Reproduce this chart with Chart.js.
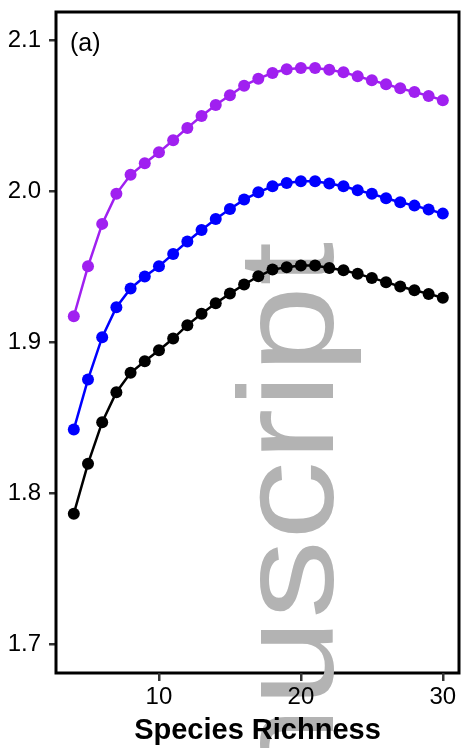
<!DOCTYPE html>
<html>
<head>
<meta charset="utf-8">
<script src="https://cdn.jsdelivr.net/npm/chart.js@4.4.1/dist/chart.umd.min.js"></script>
<style>
  html, body { margin: 0; padding: 0; background: #fff; }
  #wrap { width: 465px; height: 748px; }
</style>
</head>
<body>
<div id="wrap"><canvas id="richnessChart"></canvas></div>
<script>
const richness = [4, 5, 6, 7, 8, 9, 10, 11, 12, 13, 14, 15, 16, 17, 18, 19, 20, 21, 22, 23, 24, 25, 26, 27, 28, 29, 30];

const purpleSeries = [1.9174, 1.9505, 1.9786, 1.9985, 2.0111, 2.0188, 2.0260, 2.0340, 2.0422, 2.0501, 2.0574, 2.0638, 2.0702, 2.0748,
  2.0786, 2.0810, 2.0819, 2.0819, 2.0808, 2.0790, 2.0764, 2.0737, 2.0711, 2.0684, 2.0660, 2.0634, 2.0605];
const blueSeries = [1.8424, 1.8755, 1.9035, 1.9234, 1.9358, 1.9437, 1.9505, 1.9587, 1.9669, 1.9746, 1.9819, 1.9885, 1.9947, 1.9995,
  2.0035, 2.0057, 2.0068, 2.0068, 2.0053, 2.0035, 2.0009, 1.9985, 1.9956, 1.9929, 1.9907, 1.9881, 1.9854];
const blackSeries = [1.7866, 1.8197, 1.8472, 1.8671, 1.8799, 1.8876, 1.8949, 1.9026, 1.9115, 1.9190, 1.9260, 1.9324, 1.9384, 1.9439,
  1.9483, 1.9499, 1.9510, 1.9510, 1.9494, 1.9479, 1.9455, 1.9428, 1.9400, 1.9371, 1.9346, 1.9322, 1.9296];

const xTicks = [10, 20, 30];
const yTicks = [1.7, 1.8, 1.9, 2.0, 2.1];

const FONT = '"Liberation Sans", Arial, Helvetica, sans-serif';

function makeSeries(values, color) {
    return {
        data: richness.map((x, i) => ({ x: x, y: values[i] })),
        borderColor: color,
        backgroundColor: color,
        borderWidth: 2.5,
        pointRadius: 6,
        pointBorderWidth: 0,
        pointHoverRadius: 6,
        tension: 0
    };
}

// box round the panel, the grey watermark, and the panel tag
const panelDecor = {
    id: 'panelDecor',
    beforeDatasetsDraw(chart) {
        const { ctx, chartArea: a } = chart;
        ctx.save();
        ctx.strokeStyle = '#000';
        ctx.lineWidth = 3;
        ctx.strokeRect(a.left, a.top, a.right - a.left, a.bottom - a.top);

        ctx.fillStyle = '#b3b3b3';
        ctx.font = '136px ' + FONT;
        ctx.translate(333, 242);
        ctx.rotate(-Math.PI / 2);
        ctx.scale(1.16, 1);
        ctx.textAlign = 'right';
        ctx.textBaseline = 'alphabetic';
        ctx.fillText('Accepted Manuscript', 0, 0);
        ctx.restore();
    },
    afterDatasetsDraw(chart) {
        const { ctx, chartArea: a } = chart;
        ctx.save();
        ctx.fillStyle = '#000';
        ctx.font = '25px ' + FONT;
        ctx.textAlign = 'left';
        ctx.textBaseline = 'alphabetic';
        ctx.fillText('(a)', a.left + 14, a.top + 39);
        ctx.restore();
    }
};

function createRichnessChart(ctx) {
    if (!ctx) return;
    new Chart(ctx, {
        type: 'line',
        data: {
            datasets: [
                makeSeries(purpleSeries, '#A020F0'),
                makeSeries(blueSeries, '#0000FF'),
                makeSeries(blackSeries, '#000000')
            ]
        },
        options: {
            responsive: true, maintainAspectRatio: false,
            animation: false,
            layout: { padding: { top: 12, right: 2, left: 0, bottom: 0 } },
            plugins: { legend: { display: false }, tooltip: { enabled: false } },
            scales: {
                x: {
                    type: 'linear',
                    min: 2.745, max: 31.14,
                    border: { display: false },
                    grid: { drawOnChartArea: false, drawTicks: true, tickLength: 8, lineWidth: 2.5, color: '#333', z: 1 },
                    afterBuildTicks: (scale) => { scale.ticks = xTicks.map(v => ({ value: v })); },
                    afterFit: (scale) => { scale.height = 75; scale.paddingLeft = 0; scale.paddingRight = 0; },
                    ticks: {
                        color: '#000', padding: 2, maxRotation: 0, z: 1,
                        font: { family: FONT, size: 24 },
                        callback: (value) => String(value)
                    },
                    title: {
                        display: true, text: 'Species Richness', color: '#000',
                        font: { family: FONT, size: 29, weight: 'bold' },
                        padding: { top: 0, bottom: 0 }
                    }
                },
                y: {
                    type: 'linear',
                    min: 1.681, max: 2.119,
                    border: { display: false },
                    grid: { drawOnChartArea: false, drawTicks: true, tickLength: 7, lineWidth: 2.5, color: '#333' },
                    afterBuildTicks: (scale) => { scale.ticks = yTicks.map(v => ({ value: v })); },
                    afterFit: (scale) => { scale.width = 56; scale.paddingTop = 0; scale.paddingBottom = 0; },
                    ticks: {
                        color: '#000', padding: 8,
                        font: { family: FONT, size: 24 },
                        callback: (value) => value.toFixed(1)
                    }
                }
            }
        },
        plugins: [panelDecor]
    });
}

createRichnessChart(document.getElementById('richnessChart').getContext('2d'));
</script>
</body>
</html>
